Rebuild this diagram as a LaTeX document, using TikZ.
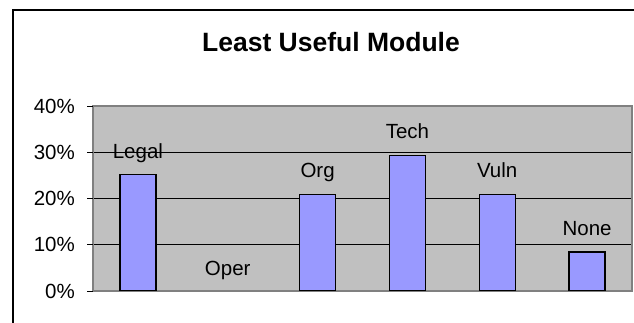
\documentclass[tikz,border=0pt]{standalone}
\usepackage{fontspec}
\setmainfont{Liberation Sans}
\usetikzlibrary{positioning}
\definecolor{plotgray}{HTML}{C0C0C0}
\definecolor{barblue}{HTML}{9999FF}
\definecolor{axisgray}{HTML}{808080}

\begin{document}
\begin{tikzpicture}[x=1pt,y=1pt,
    bar/.style={draw=black,line width=1.3pt,fill=barblue,minimum width=36pt,inner sep=0pt,anchor=south},
    barlabel/.style={font=\fontsize{20.5}{23}\selectfont,inner sep=0pt},
    ticklabel/.style={font=\fontsize{20.5}{23}\selectfont,inner sep=0pt,anchor=east}]
    \useasboundingbox (0,0) rectangle (634,322);

    % frame and plot area
    \draw[line width=1.5pt] (13,-5) -- (13,312) -- (640,312);
    \fill[plotgray] (93,31) rectangle (632,216);
    \draw[line width=0.8pt] (93,77.25) -- (632,77.25);
    \draw[line width=0.8pt] (93,123.5) -- (632,123.5);
    \draw[line width=0.8pt] (93,169.75) -- (632,169.75);
    \draw[axisgray,line width=1.5pt] (93,31) rectangle (632,216);

    % ticks
    \draw[line width=0.8pt] (87,31) -- (93,31);
    \draw[line width=0.8pt] (87,77.25) -- (93,77.25);
    \draw[line width=0.8pt] (87,123.5) -- (93,123.5);
    \draw[line width=0.8pt] (87,169.75) -- (93,169.75);
    \draw[line width=0.8pt] (87,216) -- (93,216);
    \node[ticklabel] (t0) at (75,31) {0\%};
    \node[ticklabel] (t10) at (75,77.25) {10\%};
    \node[ticklabel] (t20) at (75,123.5) {20\%};
    \node[ticklabel] (t30) at (75,169.75) {30\%};
    \node[ticklabel] (t40) at (75,216) {40\%};

    % bars
    \node[bar,minimum height=115.6pt] (legal) at (137.9,31) {};
    \coordinate (oper) at (227.7,31);
    \node[bar,minimum height=96.2pt] (org) at (317.6,31) {};
    \node[bar,minimum height=135pt] (tech) at (407.4,31) {};
    \node[bar,minimum height=96.2pt] (vuln) at (497.2,31) {};
    \node[bar,minimum height=38.4pt] (none) at (587.1,31) {};

    \node[barlabel,above=16pt of legal.north,anchor=base] (legallabel) {Legal};
    \node[barlabel,above=16pt of oper,anchor=base] (operlabel) {Oper};
    \node[barlabel,above=16pt of org.north,anchor=base] (orglabel) {Org};
    \node[barlabel,above=16pt of tech.north,anchor=base] (techlabel) {Tech};
    \node[barlabel,above=16pt of vuln.north,anchor=base] (vulnlabel) {Vuln};
    \node[barlabel,above=16pt of none.north,anchor=base] (nonelabel) {None};

    \node[font=\bfseries\fontsize{26.5}{30}\selectfont] (title) at (331,280) {Least Useful Module};
\end{tikzpicture}
\end{document}
